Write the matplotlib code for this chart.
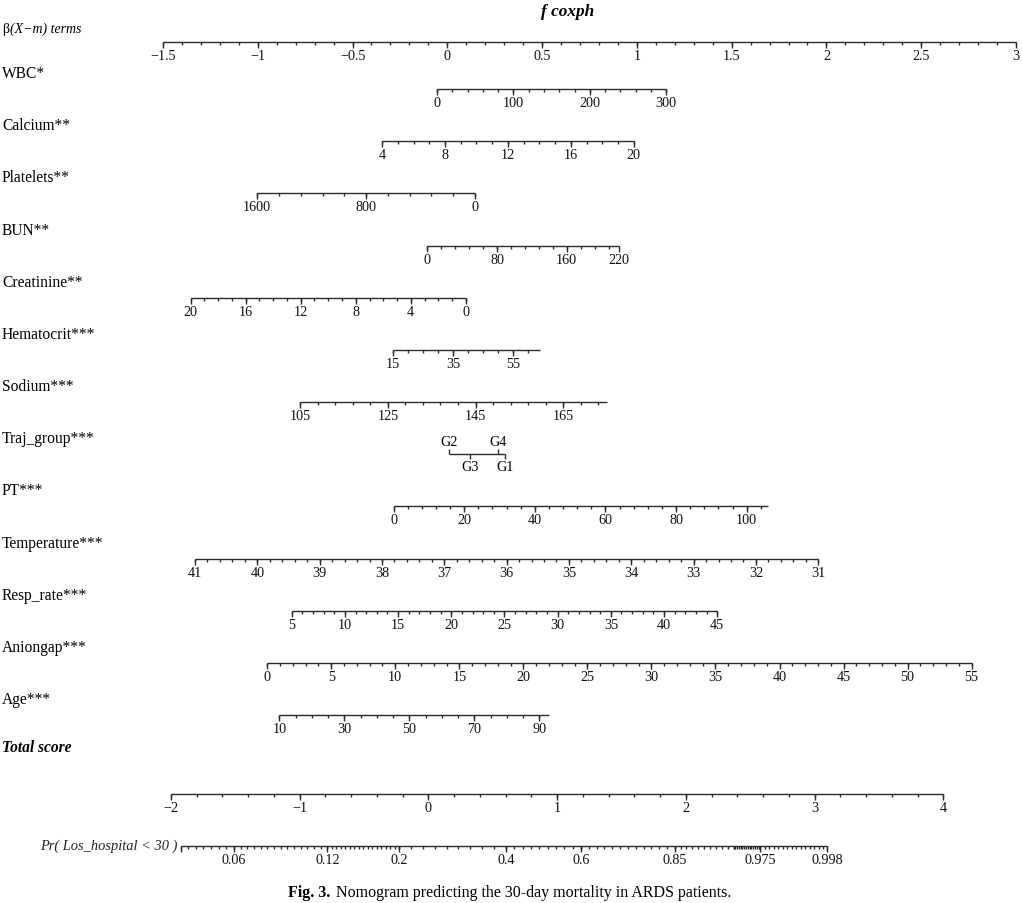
import numpy as np
import matplotlib
matplotlib.use('Agg')
import matplotlib.pyplot as plt

plt.rcParams['font.family'] = ['Liberation Serif', 'DejaVu Serif']

# ------------------------------------------------------------------ data
beta_labels = [-1.5, -1, -0.5, 0, 0.5, 1, 1.5, 2, 2.5, 3]
beta_range = [-1.5, 3]
beta_minor = 0.1

wbc_labels = [0, 100, 200, 300];            wbc_range = [0, 300];    wbc_beta = [-0.054, 1.155];  wbc_minor = 20
calcium_labels = [4, 8, 12, 16, 20];        calcium_range = [4, 20]; calcium_beta = [-0.344, 0.984]; calcium_minor = 1
platelets_labels = [1600, 800, 0];          platelets_range = [0, 1600]; platelets_beta = [0.146, -1.003]; platelets_minor = 160
bun_labels = [0, 80, 160, 220];             bun_range = [0, 220];    bun_beta = [-0.1055, 0.906]; bun_minor = 16
creat_labels = [20, 16, 12, 8, 4, 0];       creat_range = [0, 20];   creat_beta = [0.0977, -1.354]; creat_minor = 1
hct_labels = [15, 35, 55];                  hct_range = [15, 64];    hct_beta = [-0.285, 0.491];  hct_minor = 5
sodium_labels = [105, 125, 145, 165];       sodium_range = [105, 175]; sodium_beta = [-0.776, 0.843]; sodium_minor = 4
traj_levels = ['G2', 'G3', 'G4', 'G1']
traj_beta = [0.009, 0.122, 0.270, 0.304]
traj_side = ['up', 'down', 'up', 'down']
pt_labels = [0, 20, 40, 60, 80, 100];       pt_range = [0, 106];     pt_beta = [-0.283, 1.691];   pt_minor = 4
temp_labels = [41, 40, 39, 38, 37, 36, 35, 34, 33, 32, 31]
temp_range = [31, 41];                      temp_beta = [1.957, -1.331]; temp_minor = 0.2
resp_labels = [5, 10, 15, 20, 25, 30, 35, 40, 45]
resp_range = [5, 45];                       resp_beta = [-0.821, 1.424]; resp_minor = 1
anion_labels = [0, 5, 10, 15, 20, 25, 30, 35, 40, 45, 50, 55]
anion_range = [0, 55];                      anion_beta = [-0.950, 2.766]; anion_minor = 1
age_labels = [10, 30, 50, 70, 90];          age_range = [10, 93];    age_beta = [-0.886, 0.537];  age_minor = 5

total_labels = [-2, -1, 0, 1, 2, 3, 4];     total_range = [-2, 4];   total_beta = [-1.458, 2.617]; total_minor = 0.2

prob_labels = [0.06, 0.12, 0.2, 0.4, 0.6, 0.85, 0.975, 0.998]
prob_range = [0.04, 0.998]
cloglog_offset = -1.273          # Pr = 1 - exp(-exp(score + offset))
prob_minor_segments = [(0.04, 0.06, 7), (0.06, 0.12, 14), (0.12, 0.2, 16),
                       (0.2, 0.4, 9), (0.4, 0.6, 9), (0.6, 0.85, 12),
                       (0.85, 0.95, 10), (0.95, 0.975, 15), (0.975, 0.998, 15)]

variable_names = ['WBC*', 'Calcium**', 'Platelets**', 'BUN**', 'Creatinine**',
                  'Hematocrit***', 'Sodium***', 'Traj_group***', 'PT***',
                  'Temperature***', 'Resp_rate***', 'Aniongap***', 'Age***']

# ------------------------------------------------------------------ layout
W, H = 1022, 904
PX_PER_BETA = 189.56
BETA0_PX = 447.3
LINE_C = '#2b2b2b'
LW = 1.0
TICK_FS = 10.2
NAME_FS = 11.2

fig = plt.figure(figsize=(W / 100, H / 100), dpi=100)
ax = fig.add_axes([0, 0, 1, 1])
ax.set_xlim(-BETA0_PX / PX_PER_BETA, (W - BETA0_PX) / PX_PER_BETA)
ax.set_ylim(H, 0)
ax.axis('off')
tx = fig.add_axes([0, 0, 1, 1], facecolor='none')
tx.set_xlim(0, W)
tx.set_ylim(H, 0)
tx.axis('off')


def fmt(v):
    return '{:g}'.format(v).replace('-', '\u2212')


def vmap(v, rng, beta):
    v = np.asarray(v, dtype=float)
    return beta[0] + (v - rng[0]) * (beta[1] - beta[0]) / (rng[1] - rng[0])


def draw_axis(y, b_lo, b_hi, major_b, major_lbl, minor_b, start_tick=None):
    ax.hlines(y, min(b_lo, b_hi), max(b_lo, b_hi), color=LINE_C, lw=LW)
    ax.vlines(minor_b, y, y + 3, color=LINE_C, lw=LW)
    ax.vlines(major_b, y, y + 6, color=LINE_C, lw=LW)
    if start_tick is not None:
        ax.vlines([start_tick], y, y + 6, color=LINE_C, lw=LW)
    for b, l in zip(major_b, major_lbl):
        ax.text(b, y + 13.5, l, ha='center', va='center', fontsize=TICK_FS,
                color='#111111')


def var_axis(y, labels, rng, beta, step):
    minor_vals = np.arange(rng[0], rng[1] + 1e-9, step)
    draw_axis(y, vmap(rng[0], rng, beta), vmap(rng[1], rng, beta),
              vmap(labels, rng, beta), [fmt(v) for v in labels],
              vmap(minor_vals, rng, beta))


# title
tx.text(568, 12, 'f coxph', ha='center', va='center', fontsize=12.4,
        style='italic', weight='bold')
# beta axis label
b_txt = tx.text(2, 30, '\u03b2', ha='left', va='center', fontsize=10)
tx.annotate('(X\u2212m) terms', xy=(1, 0), xycoords=b_txt, xytext=(0.5, 0),
            textcoords='offset points', ha='left', va='bottom', fontsize=10,
            style='italic')

# top beta axis
Y_TOP = 43
draw_axis(Y_TOP, beta_range[0], beta_range[1], np.array(beta_labels, float),
          [fmt(v) for v in beta_labels],
          np.arange(beta_range[0], beta_range[1] + 1e-9, beta_minor))

# variable rows
Y0, DY = 90, 52.17
row_y = [Y0 + i * DY for i in range(len(variable_names))]
for name, y in zip(variable_names, row_y):
    tx.text(2, y - 16, name, ha='left', va='center', fontsize=NAME_FS)

specs = [
    (wbc_labels, wbc_range, wbc_beta, wbc_minor),
    (calcium_labels, calcium_range, calcium_beta, calcium_minor),
    (platelets_labels, platelets_range, platelets_beta, platelets_minor),
    (bun_labels, bun_range, bun_beta, bun_minor),
    (creat_labels, creat_range, creat_beta, creat_minor),
    (hct_labels, hct_range, hct_beta, hct_minor),
    (sodium_labels, sodium_range, sodium_beta, sodium_minor),
    None,
    (pt_labels, pt_range, pt_beta, pt_minor),
    (temp_labels, temp_range, temp_beta, temp_minor),
    (resp_labels, resp_range, resp_beta, resp_minor),
    (anion_labels, anion_range, anion_beta, anion_minor),
    (age_labels, age_range, age_beta, age_minor),
]
for spec, y in zip(specs, row_y):
    if spec is None:
        continue
    var_axis(y, *spec)

# Traj_group (categorical)
y_tr = row_y[7]
ax.hlines(y_tr, min(traj_beta), max(traj_beta), color=LINE_C, lw=LW)
for lvl, b, side in zip(traj_levels, traj_beta, traj_side):
    if side == 'up':
        ax.vlines(b, y_tr - 5, y_tr, color=LINE_C, lw=LW)
        ax.text(b, y_tr - 13, lvl, ha='center', va='center', fontsize=TICK_FS)
    else:
        ax.vlines(b, y_tr, y_tr + 5, color=LINE_C, lw=LW)
        ax.text(b, y_tr + 12.5, lvl, ha='center', va='center', fontsize=TICK_FS)

# Total score
tx.text(2, 748, 'Total score', ha='left', va='center', fontsize=NAME_FS,
        style='italic', weight='bold')
Y_TOT = 795
draw_axis(Y_TOT, vmap(total_range[0], total_range, total_beta),
          vmap(total_range[1], total_range, total_beta),
          vmap(total_labels, total_range, total_beta),
          [fmt(v) for v in total_labels],
          vmap(np.arange(total_range[0], total_range[1] + 1e-9, total_minor),
               total_range, total_beta))

# Probability axis


def prob_score(p):
    return np.log(-np.log(1 - np.asarray(p, dtype=float))) - cloglog_offset


def prob_to_beta(p):
    return vmap(prob_score(p), total_range, total_beta)


minor_scores = []
for p0, p1, n in prob_minor_segments:
    minor_scores.extend(np.linspace(prob_score(p0), prob_score(p1), n + 1))
minor_prob_beta = vmap(np.array(minor_scores), total_range, total_beta)

Y_PR = 847
draw_axis(Y_PR, prob_to_beta(prob_range[0]), prob_to_beta(prob_range[1]),
          prob_to_beta(prob_labels), [fmt(v) for v in prob_labels],
          minor_prob_beta, start_tick=prob_to_beta(prob_range[0]))
tx.text(177, Y_PR - 1, 'Pr( Los_hospital < 30 )', ha='right', va='center',
        fontsize=10.4, style='italic', color='#222222')

# caption
cap = tx.text(288, 893, 'Fig. 3.', ha='left', va='center', fontsize=11.5,
              weight='bold')
tx.annotate('Nomogram predicting the 30-day mortality in ARDS patients.',
            xy=(1, 0), xycoords=cap, xytext=(4, 0), textcoords='offset points',
            ha='left', va='bottom', fontsize=11.5)

fig.savefig('out.png', dpi=100, facecolor='white')
